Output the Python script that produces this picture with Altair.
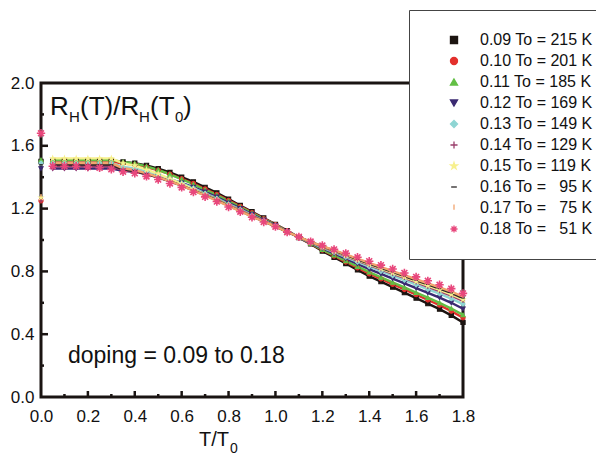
import altair as alt
import pandas as pd

FONT = "Liberation Sans"
INK = "#1a1412"

# T/T0 grid
t_over_t0 = [0.00, 0.05, 0.10, 0.15, 0.20, 0.25, 0.30, 0.35, 0.40, 0.45,
             0.50, 0.55, 0.60, 0.65, 0.70, 0.75, 0.80, 0.85, 0.90, 0.95,
             1.00, 1.05, 1.10, 1.15, 1.20, 1.25, 1.30, 1.35, 1.40, 1.45,
             1.50, 1.55, 1.60, 1.65, 1.70, 1.75, 1.80]

dopings = [0.09, 0.10, 0.11, 0.12, 0.13, 0.14, 0.15, 0.16, 0.17, 0.18]
series_labels = [
    "0.09 To = 215 K", "0.10 To = 201 K", "0.11 To = 185 K", "0.12 To = 169 K",
    "0.13 To = 149 K", "0.14 To = 129 K", "0.15 To = 119 K",
    "0.16 To = \u00a0\u00a095 K", "0.17 To = \u00a0\u00a075 K", "0.18 To = \u00a0\u00a051 K",
]

r_009 = [1.50, 1.50, 1.50, 1.50, 1.50, 1.50, 1.50, 1.497, 1.49, 1.475,
         1.455, 1.43, 1.40, 1.37, 1.335, 1.30, 1.26, 1.22, 1.18, 1.14,
         1.10, 1.06, 1.015, 0.975, 0.93, 0.89, 0.85, 0.81, 0.77, 0.735,
         0.70, 0.665, 0.63, 0.595, 0.56, 0.52, 0.475]
r_010 = [1.25, 1.50, 1.50, 1.50, 1.50, 1.50, 1.50, 1.487, 1.480, 1.464,
         1.444, 1.419, 1.390, 1.360, 1.325, 1.291, 1.252, 1.214, 1.174, 1.136,
         1.098, 1.058, 1.016, 0.977, 0.936, 0.898, 0.860, 0.823, 0.785, 0.752,
         0.718, 0.685, 0.652, 0.618, 0.585, 0.547, 0.505]
r_011 = [1.51, 1.51, 1.51, 1.51, 1.51, 1.51, 1.51, 1.497, 1.488, 1.469,
         1.446, 1.418, 1.387, 1.355, 1.319, 1.286, 1.247, 1.210, 1.171, 1.134,
         1.096, 1.057, 1.016, 0.979, 0.939, 0.903, 0.867, 0.831, 0.795, 0.762,
         0.730, 0.698, 0.665, 0.633, 0.600, 0.564, 0.523]
r_012 = [1.455, 1.455, 1.455, 1.455, 1.455, 1.455, 1.455, 1.440, 1.435, 1.422,
         1.407, 1.386, 1.363, 1.336, 1.307, 1.274, 1.237, 1.201, 1.164, 1.128,
         1.093, 1.055, 1.017, 0.982, 0.947, 0.914, 0.881, 0.848, 0.815, 0.784,
         0.754, 0.724, 0.694, 0.663, 0.633, 0.600, 0.562]
r_013 = [1.49, 1.49, 1.49, 1.49, 1.49, 1.49, 1.49, 1.466, 1.456, 1.437,
         1.415, 1.389, 1.361, 1.330, 1.297, 1.265, 1.229, 1.195, 1.158, 1.124,
         1.091, 1.054, 1.018, 0.985, 0.952, 0.922, 0.891, 0.860, 0.830, 0.801,
         0.773, 0.744, 0.715, 0.686, 0.658, 0.627, 0.592]
r_014 = [1.25, 1.47, 1.47, 1.47, 1.47, 1.47, 1.47, 1.444, 1.436, 1.418,
         1.399, 1.375, 1.350, 1.321, 1.291, 1.259, 1.223, 1.190, 1.154, 1.122,
         1.089, 1.053, 1.019, 0.986, 0.956, 0.927, 0.898, 0.869, 0.840, 0.813,
         0.785, 0.758, 0.730, 0.702, 0.675, 0.646, 0.612]
r_015 = [1.27, 1.52, 1.52, 1.52, 1.52, 1.52, 1.52, 1.488, 1.474, 1.448,
         1.422, 1.390, 1.357, 1.323, 1.288, 1.257, 1.221, 1.188, 1.152, 1.120,
         1.088, 1.052, 1.019, 0.987, 0.958, 0.930, 0.901, 0.873, 0.845, 0.818,
         0.791, 0.764, 0.737, 0.710, 0.683, 0.654, 0.621]
r_016 = [1.48, 1.48, 1.48, 1.48, 1.48, 1.48, 1.48, 1.449, 1.439, 1.420,
         1.399, 1.373, 1.346, 1.316, 1.285, 1.254, 1.218, 1.186, 1.151, 1.119,
         1.087, 1.052, 1.019, 0.988, 0.959, 0.932, 0.905, 0.877, 0.850, 0.823,
         0.797, 0.770, 0.743, 0.717, 0.690, 0.663, 0.630]
r_017 = [1.28, 1.49, 1.49, 1.49, 1.49, 1.49, 1.49, 1.457, 1.446, 1.424,
         1.401, 1.374, 1.346, 1.314, 1.282, 1.251, 1.216, 1.184, 1.149, 1.118,
         1.087, 1.051, 1.020, 0.988, 0.961, 0.935, 0.908, 0.881, 0.855, 0.829,
         0.802, 0.776, 0.750, 0.724, 0.698, 0.671, 0.640]
r_018 = [1.68, 1.47, 1.47, 1.47, 1.465, 1.46, 1.45, 1.435, 1.425, 1.405,
         1.385, 1.36, 1.335, 1.305, 1.275, 1.245, 1.21, 1.18, 1.145, 1.115,
         1.085, 1.05, 1.02, 0.99, 0.965, 0.94, 0.915, 0.89, 0.865, 0.84,
         0.815, 0.79, 0.765, 0.74, 0.715, 0.69, 0.66]

all_series = [r_009, r_010, r_011, r_012, r_013, r_014, r_015, r_016, r_017, r_018]

colors = ["#1c1411", "#e3302c", "#62bf45", "#3b2a72", "#8ed5d3",
          "#9a3f6c", "#f7f08e", "#2a2626", "#f2a46e", "#e8477c"]
shapes = [
    "square", "circle", "triangle-up", "triangle-down", "diamond",
    "M-1,0H1M0,-1V1",
    "M0,-1L0.22,-0.31L0.95,-0.31L0.36,0.12L0.59,0.81L0,0.38L-0.59,0.81L-0.36,0.12L-0.95,-0.31L-0.22,-0.31Z",
    "M-0.8,0H0.8",
    "M0,-1V0.5",
    "M-1,0H1M0,-1V1M-0.7,-0.7L0.7,0.7M-0.7,0.7L0.7,-0.7",
]

x_labels = [0.0, 0.2, 0.4, 0.6, 0.8, 1.0, 1.2, 1.4, 1.6, 1.8]
y_labels = [0.0, 0.4, 0.8, 1.2, 1.6, 2.0]
x_major = [0.2, 0.4, 0.6, 0.8, 1.0, 1.2, 1.4, 1.6]
x_minor = [0.1, 0.3, 0.5, 0.7, 0.9, 1.1, 1.3, 1.5, 1.7]
y_major = [0.4, 0.8, 1.2, 1.6]
y_minor = [0.2, 0.6, 1.0, 1.4, 1.8]

rows = []
for d, lab, vals in zip(dopings, series_labels, all_series):
    for t, v in zip(t_over_t0, vals):
        rows.append({"t": t, "r": v, "series": lab, "doping": d})
df = pd.DataFrame(rows)

W, H = 422, 314
x_scale = alt.Scale(domain=[0, 1.8], nice=False, zero=False)
y_scale = alt.Scale(domain=[0, 2.0], nice=False)
series_scale = alt.Scale(domain=series_labels, range=colors)
shape_scale = alt.Scale(domain=series_labels, range=shapes)
line_scale = alt.Scale(domain=dopings, range=colors)

legend = alt.Legend(
    title=None, orient="none", legendX=368, legendY=-73, padding=22,
    symbolOffset=15, labelFontSize=16, labelFont=FONT, labelColor="#111",
    labelOffset=18, rowPadding=5, strokeColor="#444", fillColor="white",
    symbolSize=50, symbolStrokeWidth=1.3, labelLimit=400,
)
x_axis = alt.Axis(values=x_labels, format=".1f", tickSize=0, labelFontSize=17,
                  labelFont=FONT, labelColor="#111", labelPadding=11,
                  domain=False, grid=False, title=None, labelFlush=False)
y_axis = alt.Axis(values=y_labels, format=".1f", tickSize=0, labelFontSize=17,
                  labelFont=FONT, labelColor="#111", labelPadding=7,
                  domain=False, grid=False, title=None, labelFlush=False)

X = alt.X("t:Q", scale=x_scale, axis=x_axis)
Y = alt.Y("r:Q", scale=y_scale, axis=y_axis)

enc_common = dict(
    x=X, y=Y,
    fill=alt.Fill("series:N", scale=series_scale, legend=legend),
    stroke=alt.Stroke("series:N", scale=series_scale, legend=legend),
    shape=alt.Shape("series:N", scale=shape_scale, legend=legend),
)

lines = alt.Chart(df).transform_filter("datum.t > 0 && datum.doping < 0.175").mark_line(
    strokeWidth=2.4).encode(
    x=X, y=Y,
    color=alt.Color("doping:N", scale=line_scale, legend=None),
)

pts_main = alt.Chart(df).transform_filter("datum.doping < 0.175").mark_point(
    size=18, strokeWidth=1.1, opacity=1).encode(**enc_common)
pts_star = alt.Chart(df).transform_filter("datum.doping > 0.175").mark_point(
    size=70, strokeWidth=1.6, opacity=1).encode(**enc_common)

xt_major = alt.Chart(pd.DataFrame({"t": x_major})).mark_rule(strokeWidth=2.5, color=INK).encode(
    x=X, y=alt.value(H), y2=alt.value(H - 6))
xt_minor = alt.Chart(pd.DataFrame({"t": x_minor})).mark_rule(strokeWidth=2.5, color=INK).encode(
    x=X, y=alt.value(H), y2=alt.value(H - 3))
yt_major = alt.Chart(pd.DataFrame({"r": y_major})).mark_rule(strokeWidth=2.5, color=INK).encode(
    y=Y, x=alt.value(0), x2=alt.value(7))
yt_minor = alt.Chart(pd.DataFrame({"r": y_minor})).mark_rule(strokeWidth=2.5, color=INK).encode(
    y=Y, x=alt.value(0), x2=alt.value(3))


def piece(text, size, px, py):
    return alt.Chart(pd.DataFrame({"s": [text]})).mark_text(
        align="left", baseline="alphabetic", fontSize=size, font=FONT, color="#111"
    ).encode(x=alt.value(px), y=alt.value(py), text="s:N")


# R_H(T)/R_H(T_0) label, built from normal and subscript pieces
ry = 32
label_layers = [
    piece("R", 26, 9, ry), piece("H", 15, 28, ry + 7),
    piece("(T)/R", 26, 39, ry), piece("H", 15, 98, ry + 7),
    piece("(T", 26, 109, ry), piece("0", 15, 134, ry + 7),
    piece(")", 26, 142, ry),
    piece("doping = 0.09 to 0.18", 23, 27, 280),
    piece("T/T", 20, 158, 363), piece("0", 14, 189, 370),
]

chart = alt.layer(
    lines, pts_main, pts_star, xt_major, xt_minor, yt_major, yt_minor, *label_layers
).properties(
    width=W, height=H,
    padding={"left": 33, "top": 75, "right": 133, "bottom": 60},
    autosize=alt.AutoSizeParams(type="none"),
).configure_view(stroke=INK, strokeWidth=3)

chart.save("out.html", embed_options={"renderer": "svg", "actions": False})
